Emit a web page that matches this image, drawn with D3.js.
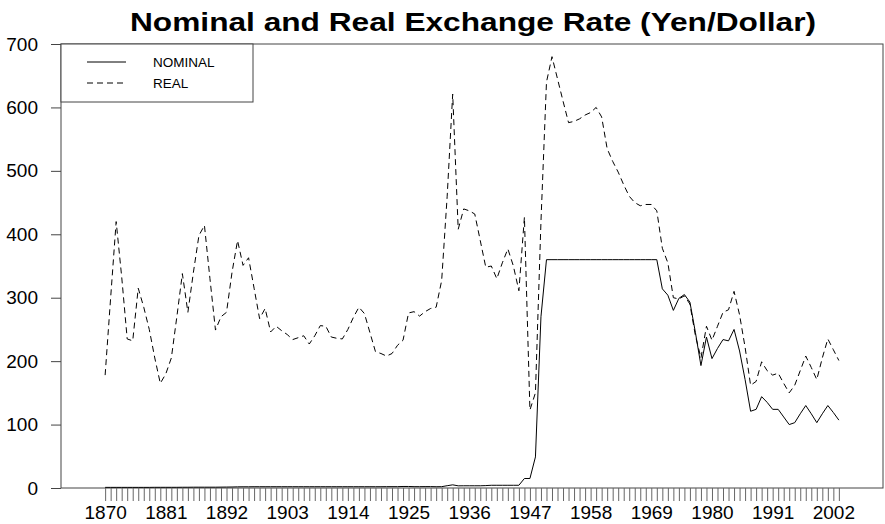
<!DOCTYPE html>
<html>
<head>
<meta charset="utf-8">
<script src="https://cdn.jsdelivr.net/npm/d3@7"></script>
<style>
  body { margin: 0; background: #fff; }
  text { font-family: "Liberation Sans", Arial, sans-serif; }
</style>
</head>
<body>
<div id="chart"></div>
<script>
// Data: yen per dollar, 1870-2003
var firstYear = 1870;
var lastYear = 2003;

var nominal = [
  1.0, 1.0, 1.0, 1.0, 1.0, 1.0, 1.0, 1.0, 1.0, 1.1,   // 1870-1879
  1.1, 1.1, 1.1, 1.1, 1.2, 1.2, 1.3, 1.3, 1.3, 1.3,   // 1880-1889
  1.3, 1.4, 1.5, 1.6, 1.8, 1.9, 1.9, 2.0, 2.0, 2.0,   // 1890-1899
  2.0, 2.0, 2.0, 2.0, 2.0, 2.0, 2.0, 2.0, 2.0, 2.0,   // 1900-1909
  2.0, 2.0, 2.0, 2.0, 2.0, 2.0, 2.0, 2.0, 2.0, 2.0,   // 1910-1919
  2.0, 2.1, 2.1, 2.1, 2.4, 2.4, 2.1, 2.1, 2.2, 2.2,   // 1920-1929
  2.0, 2.1, 3.6, 5.0, 3.4, 3.5, 3.5, 3.5, 3.5, 3.8,   // 1930-1939
  4.3, 4.3, 4.3, 4.3, 4.3, 4.3, 15, 15, 49, 270,      // 1940-1949
  360, 360, 360, 360, 360, 360, 360, 360, 360, 360,   // 1950-1959
  360, 360, 360, 360, 360, 360, 360, 360, 360, 360,   // 1960-1969
  360, 314, 304, 280, 299, 305, 293, 245, 193, 238,   // 1970-1979
  204, 220, 234, 232, 250, 216, 171, 121, 124, 144,   // 1980-1989
  135, 124, 124, 112, 100, 103, 117, 130, 117, 103,   // 1990-1999
  117, 130, 119, 107                                  // 2000-2003
];

var real = [
  178, 300, 420, 333, 235, 232, 315, 285, 250, 205,   // 1870-1879
  165, 180, 205, 270, 338, 277, 340, 398, 414, 330,   // 1880-1889
  249, 270, 277, 340, 390, 351, 363, 315, 267, 283,   // 1890-1899
  246, 255, 248, 242, 234, 237, 240, 227, 240, 256,   // 1900-1909
  255, 238, 236, 235, 250, 269, 285, 275, 245, 215,   // 1910-1919
  212, 208, 212, 225, 233, 276, 278, 271, 278, 283,   // 1920-1929
  285, 327, 460, 621, 408, 440, 437, 432, 390, 348,   // 1930-1939
  350, 330, 355, 377, 350, 311, 427, 123, 150, 420,   // 1940-1949
  640, 680, 645, 610, 576, 578, 582, 588, 592, 600,   // 1950-1959
  585, 535, 515, 498, 478, 460, 450, 445, 447, 447,   // 1960-1969
  437, 378, 355, 300, 298, 303, 290, 240, 205, 255,   // 1970-1979
  233, 255, 277, 281, 310, 273, 222, 162, 168, 199,   // 1980-1989
  185, 178, 181, 165, 150, 162, 185, 208, 190, 171,   // 1990-1999
  205, 235, 218, 201                                  // 2000-2003
];

var yTicks = [0, 100, 200, 300, 400, 500, 600, 700];
var xLabelYears = [1870, 1881, 1892, 1903, 1914, 1925, 1936, 1947, 1958, 1969, 1980, 1991, 2002];

var seriesNames = ["NOMINAL", "REAL"];

var years = d3.range(firstYear, lastYear + 1);

// Chart size
var svgWidth = 885;
var svgHeight = 524;

var margin = { top: 44, right: 2, bottom: 36, left: 61 };
var width = svgWidth - margin.left - margin.right;
var height = svgHeight - margin.top - margin.bottom;

var svg = d3.select("#chart")
    .append("svg")
    .attr("width", svgWidth)
    .attr("height", svgHeight);

var chartGroup = svg.append("g")
    .attr("transform", `translate(${margin.left}, ${margin.top})`);

// Scales
// ==============================
var xScale = d3.scaleLinear()
    .domain([1862, 2011])
    .range([0, width]);

var yScale = d3.scaleLinear()
    .domain([0, 700])
    .range([height, 0]);

// Frame
chartGroup.append("rect")
    .attr("x", 0)
    .attr("y", 0)
    .attr("width", width)
    .attr("height", height)
    .attr("fill", "none")
    .attr("stroke", "#444")
    .attr("stroke-width", 1);

// Axes
// ==============================
var leftAxis = d3.axisLeft(yScale)
    .tickValues(yTicks)
    .tickSize(10)
    .tickPadding(13);

var yAxisG = chartGroup.append("g").call(leftAxis);
yAxisG.select(".domain").remove();
yAxisG.selectAll("line").attr("stroke", "#444");
yAxisG.selectAll("text")
    .attr("font-size", "19px")
    .attr("fill", "#000")
    .style("font-family", "Liberation Sans, Arial, sans-serif");

// yearly ticks below the frame
var bottomAxis = d3.axisBottom(xScale)
    .tickValues(years)
    .tickSize(13)
    .tickFormat(d => xLabelYears.indexOf(d) >= 0 ? d : "");

var xAxisG = chartGroup.append("g")
    .attr("transform", `translate(0, ${height})`)
    .call(bottomAxis);
xAxisG.select(".domain").remove();
xAxisG.selectAll("line").attr("stroke", "#666");
xAxisG.selectAll("text")
    .attr("font-size", "19px")
    .attr("fill", "#000")
    .attr("y", 18)
    .style("font-family", "Liberation Sans, Arial, sans-serif");

// Lines
// ==============================
var line = d3.line()
    .x((d, i) => xScale(years[i]))
    .y(d => yScale(d));

chartGroup.append("path")
    .datum(nominal)
    .attr("d", line)
    .attr("fill", "none")
    .attr("stroke", "#000")
    .attr("stroke-width", 1);

chartGroup.append("path")
    .datum(real)
    .attr("d", line)
    .attr("fill", "none")
    .attr("stroke", "#000")
    .attr("stroke-width", 1)
    .attr("stroke-dasharray", "6,4");

// Legend
// ==============================
var legend = chartGroup.append("g");

legend.append("rect")
    .attr("x", 0)
    .attr("y", 0)
    .attr("width", 192)
    .attr("height", 58)
    .attr("fill", "#fff")
    .attr("stroke", "#444");

seriesNames.forEach(function(name, i) {
    var ly = 18 + i * 21;
    legend.append("line")
        .attr("x1", 26)
        .attr("x2", 65)
        .attr("y1", ly)
        .attr("y2", ly)
        .attr("stroke", "#000")
        .attr("stroke-dasharray", i === 1 ? "6,4" : null);
    legend.append("text")
        .attr("x", 92)
        .attr("y", ly)
        .attr("dy", "0.35em")
        .attr("font-size", "13.5px")
        .text(name);
});

// Title
svg.append("text")
    .attr("x", 473)
    .attr("y", 31)
    .attr("text-anchor", "middle")
    .attr("font-size", "26px")
    .attr("font-weight", "bold")
    .attr("textLength", 686)
    .attr("lengthAdjust", "spacingAndGlyphs")
    .text("Nominal and Real Exchange Rate (Yen/Dollar)");
</script>
</body>
</html>
